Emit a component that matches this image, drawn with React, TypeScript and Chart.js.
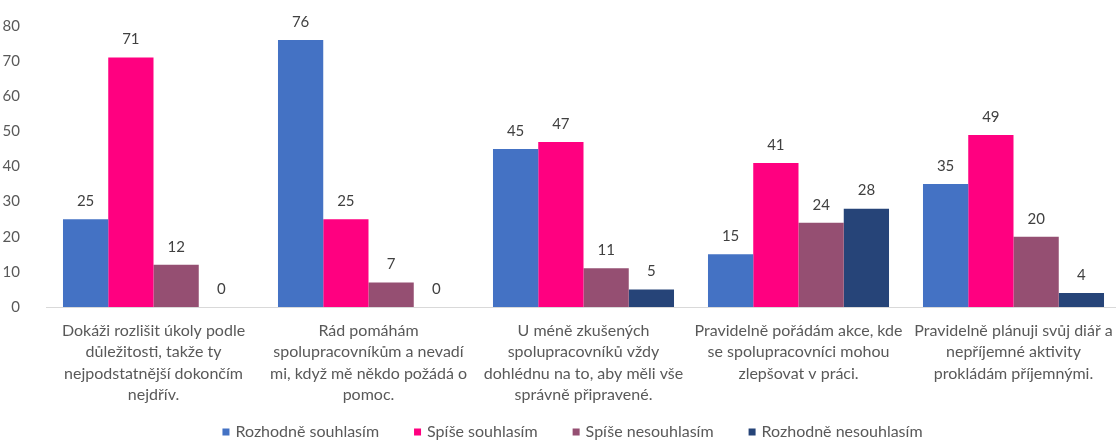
import React, { useEffect, useRef } from "react";
import { Chart, registerables } from "chart.js";

Chart.register(...registerables);

const categories: string[][] = [
  ["Dokáži rozlišit úkoly podle", "důležitosti, takže ty", "nejpodstatnější dokončím", "nejdřív."],
  ["Rád pomáhám", "spolupracovníkům a nevadí", "mi, když mě někdo požádá o", "pomoc."],
  ["U méně zkušených", "spolupracovníků vždy", "dohlédnu na to, aby měli vše", "správně připravené."],
  ["Pravidelně pořádám akce, kde", "se spolupracovníci mohou", "zlepšovat v práci."],
  ["Pravidelně plánuji svůj diář a", "nepříjemné aktivity", "prokládám příjemnými."],
];

const seriesNames = ["Rozhodně souhlasím", "Spíše souhlasím", "Spíše nesouhlasím", "Rozhodně nesouhlasím"];
const rozhodneSouhlasim = [25, 76, 45, 15, 35];
const spiseSouhlasim = [71, 25, 47, 41, 49];
const spiseNesouhlasim = [12, 7, 11, 24, 20];
const rozhodneNesouhlasim = [0, 0, 5, 28, 4];
const seriesColors = ["#4472C4", "#FF0080", "#954F72", "#264478"];

const yMax = 80;
const yStep = 10;

const FONT = "Lato, 'Open Sans', sans-serif";
const TEXT = "#595959";

const CANVAS_W = 1145;
const CANVAS_H = 440;

const dataLabelPlugin = {
  id: "dataLabels",
  afterDatasetsDraw(chart: any) {
    const ctx = chart.ctx;
    ctx.save();
    ctx.font = `15px ${FONT}`;
    ctx.fillStyle = "#404040";
    ctx.textAlign = "center";
    ctx.textBaseline = "middle";
    chart.data.datasets.forEach((ds: any, i: number) => {
      const meta = chart.getDatasetMeta(i);
      meta.data.forEach((bar: any, j: number) => {
        ctx.fillText(String(ds.data[j]), bar.x, bar.y - 18);
      });
    });
    ctx.restore();
  },
};

const legendPlugin = {
  id: "customLegend",
  afterDraw(chart: any) {
    const ctx = chart.ctx;
    ctx.save();
    ctx.font = `16px ${FONT}`;
    ctx.textBaseline = "middle";
    ctx.textAlign = "left";
    const box = 7;
    const gapText = 6;
    const gapItem = 35;
    const items = chart.data.datasets.map((ds: any) => ({
      label: ds.label,
      color: ds.backgroundColor,
      w: ctx.measureText(ds.label).width,
    }));
    const total = items.reduce((s: number, it: any) => s + box + gapText + it.w, 0) + gapItem * (items.length - 1);
    let x = chart.width / 2 - total / 2;
    const y = 432;
    items.forEach((it: any) => {
      ctx.fillStyle = it.color;
      ctx.fillRect(x, y - box / 2, box, box);
      ctx.fillStyle = TEXT;
      ctx.fillText(it.label, x + box + gapText, y);
      x += box + gapText + it.w + gapItem;
    });
    ctx.restore();
  },
};

export default function App() {
  const ref = useRef<HTMLCanvasElement>(null);

  useEffect(() => {
    if (!ref.current) return;
    const seriesValues = [rozhodneSouhlasim, spiseSouhlasim, spiseNesouhlasim, rozhodneNesouhlasim];
    const chart = new Chart(ref.current, {
      type: "bar",
      data: {
        labels: categories,
        datasets: seriesNames.map((name, i) => ({
          label: name,
          data: seriesValues[i],
          backgroundColor: seriesColors[i],
          borderWidth: 0,
          categoryPercentage: 0.842,
          barPercentage: 1,
        })),
      },
      options: {
        animation: false,
        responsive: false,
        maintainAspectRatio: false,
        layout: { padding: { top: 26, bottom: 0, left: 0, right: 24 } },
        plugins: {
          legend: { display: false },
          tooltip: { enabled: false },
        },
        scales: {
          x: {
            grid: { display: false },
            border: { display: true, color: "#D9D9D9", width: 1 },
            ticks: {
              color: TEXT,
              font: { family: FONT, size: 16, lineHeight: 21.5 / 16 },
              maxRotation: 0,
              minRotation: 0,
              autoSkip: false,
              padding: 5,
            },
            afterFit(scale: any) {
              scale.height = 133;
              scale.paddingLeft = 0;
              scale.paddingRight = 0;
            },
          },
          y: {
            min: 0,
            max: yMax,
            grid: { display: false },
            border: { display: false },
            ticks: {
              stepSize: yStep,
              color: TEXT,
              font: { family: FONT, size: 15 },
              padding: 18,
            },
            afterFit(scale: any) {
              scale.width = 46;
              scale.paddingTop = 0;
              scale.paddingBottom = 0;
            },
          },
        },
      },
      plugins: [dataLabelPlugin, legendPlugin],
    });
    return () => chart.destroy();
  }, []);

  return (
    <div style={{ position: "fixed", left: 0, top: 0, width: 1116, height: 440, overflow: "hidden", background: "#fff" }}>
      <div style={{ width: CANVAS_W, height: CANVAS_H }}>
        <canvas ref={ref} width={CANVAS_W} height={CANVAS_H} />
      </div>
    </div>
  );
}
